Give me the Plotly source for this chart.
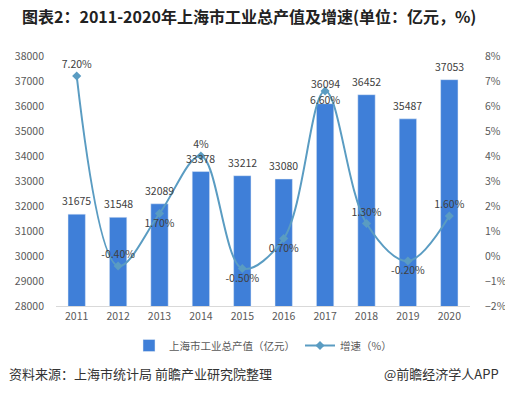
import plotly.graph_objects as go

years = ["2011", "2012", "2013", "2014", "2015", "2016", "2017", "2018", "2019", "2020"]
output_values = [31675, 31548, 32089, 33378, 33212, 33080, 36094, 36452, 35487, 37053]
growth_values = [7.2, -0.4, 1.7, 4.0, -0.5, 0.7, 6.6, 1.3, -0.2, 1.6]
growth_labels = ["7.20%", "-0.40%", "1.70%", "4%", "-0.50%", "0.70%", "6.60%", "1.30%", "-0.20%", "1.60%"]
growth_label_pos = ["top center", "top center", "bottom center", "top center", "bottom center",
                    "bottom center", "bottom center", "top center", "bottom center", "top center"]
bar_label_shift = [4, 4, 4, 4, 4, 4, 11, 4, 4, 4]

FONT = "Noto Sans CJK SC"
BAR_COLOR = "#3F7FD8"
LINE_COLOR = "#5A9CC2"
LABEL_COLOR = "#404040"
TICK_COLOR = "#595959"

fig = go.Figure()
fig.add_trace(go.Bar(
    x=years, y=output_values, name="上海市工业总产值（亿元）",
    marker=dict(color=BAR_COLOR), width=0.42,
))
fig.add_trace(go.Scatter(
    x=years, y=growth_values, name="增速（%）", yaxis="y2",
    mode="lines+markers+text", line=dict(color=LINE_COLOR, width=2, shape="spline", smoothing=1.0),
    marker=dict(symbol="diamond", size=7, color=LINE_COLOR),
    text=growth_labels, textposition=growth_label_pos,
    textfont=dict(size=10.5, color=LABEL_COLOR, family=FONT), cliponaxis=False,
))

# bar value labels placed on the category index of each bar
annotations = [
    dict(x=i, y=v, xref="x", yref="y", text=str(v), showarrow=False,
         yanchor="bottom", yshift=s, font=dict(size=10.5, color=LABEL_COLOR, family=FONT))
    for i, (v, s) in enumerate(zip(output_values, bar_label_shift))
]
annotations += [
    dict(text="资料来源：上海市统计局 前瞻产业研究院整理", xref="paper", yref="paper",
         x=-0.118, y=0, xanchor="left", yanchor="middle", yshift=-67, showarrow=False,
         font=dict(size=13, color="#333333", family=FONT)),
    dict(text="@前瞻经济学人APP", xref="paper", yref="paper",
         x=1.075, y=0, xanchor="right", yanchor="middle", yshift=-67, showarrow=False,
         font=dict(size=13, color="#333333", family=FONT)),
]

fig.update_layout(
    width=505, height=395,
    margin=dict(l=56, r=35, t=56, b=89, autoexpand=False),
    paper_bgcolor="white", plot_bgcolor="white",
    font=dict(family=FONT, color=TICK_COLOR, size=10.5),
    showlegend=True,
    title=dict(text="<b>图表2：2011-2020年上海市工业总产值及增速(单位：亿元，%)</b>",
               xref="container", yref="container", x=22 / 505, xanchor="left",
               y=1 - 17 / 395, yanchor="middle", automargin=False,
               font=dict(size=16, color="#222222", family=FONT)),
    legend=dict(orientation="h", x=0.5, xanchor="center", y=-0.1, yanchor="top",
                font=dict(size=10.5, color=TICK_COLOR), itemwidth=30),
    xaxis=dict(type="category", range=[-0.5, len(years) - 0.5], showgrid=False, showline=True,
               linecolor="#d9d9d9", ticks="", automargin=False,
               tickfont=dict(size=10.5, color=TICK_COLOR)),
    yaxis=dict(range=[28000, 38000], dtick=1000, tickformat="d", showgrid=False, zeroline=False,
               showline=False, ticks="", automargin=False, ticklabelstandoff=11,
               tickfont=dict(size=10.5, color=TICK_COLOR)),
    yaxis2=dict(range=[-2, 8], dtick=1, overlaying="y", side="right", showgrid=False,
                zeroline=False, showline=False, ticksuffix="%", automargin=False,
                ticklabelstandoff=14, tickfont=dict(size=10.5, color=TICK_COLOR)),
    annotations=annotations,
)

fig.write_html("out.html", config={"displayModeBar": False},
               post_script="document.body.style.margin='0';")
